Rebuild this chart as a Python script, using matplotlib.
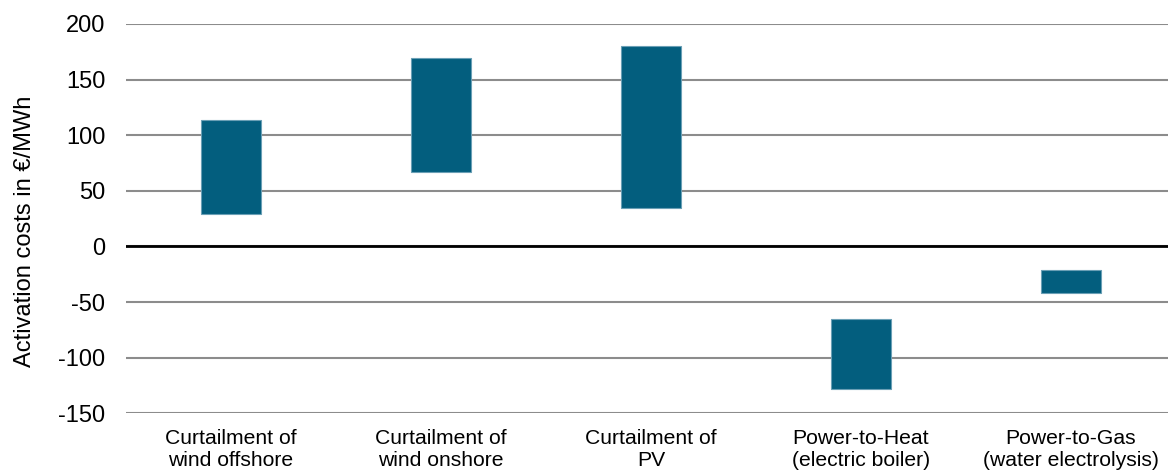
import matplotlib.pyplot as plt
import numpy as np

plt.rcParams['font.family'] = ['Liberation Sans', 'DejaVu Sans']
plt.rcParams['axes.unicode_minus'] = False

categories = ['Curtailment of\nwind offshore', 'Curtailment of\nwind onshore',
              'Curtailment of\nPV', 'Power-to-Heat\n(electric boiler)',
              'Power-to-Gas\n(water electrolysis)']
cost_low = [29, 67, 35, -128, -42]
cost_high = [114, 169, 180, -65, -21]

fig = plt.figure(figsize=(11.68, 4.72), dpi=100)
# axes run slightly past the right edge of the figure
ax = fig.add_axes([126 / 1168, 58.7 / 472, 1050 / 1168, 389.3 / 472])

x = np.arange(len(categories))
heights = [h - l for l, h in zip(cost_low, cost_high)]
ax.bar(x, heights, bottom=cost_low, width=0.286, color='#035E7E',
       edgecolor='#6A9FB5', linewidth=0.8, zorder=3)

ax.set_xlim(-0.5, 4.5)
ax.set_ylim(-150, 200)
ax.set_yticks(range(-150, 201, 50))
ax.yaxis.grid(True, color='#8C8C8C', linewidth=1.5, zorder=0)
ax.axhline(0, color='black', linewidth=2, zorder=2)

ax.set_xticks(x)
ax.set_xticklabels(categories, fontsize=15.2, linespacing=1.2)
ax.tick_params(axis='y', labelsize=17, length=0, pad=15)
ax.tick_params(axis='x', length=0, pad=11)
ax.set_ylabel('Activation costs in €/MWh', fontsize=17, labelpad=16, y=0.468)

for s in ax.spines.values():
    s.set_visible(False)

fig.savefig('out.png', dpi=100)
